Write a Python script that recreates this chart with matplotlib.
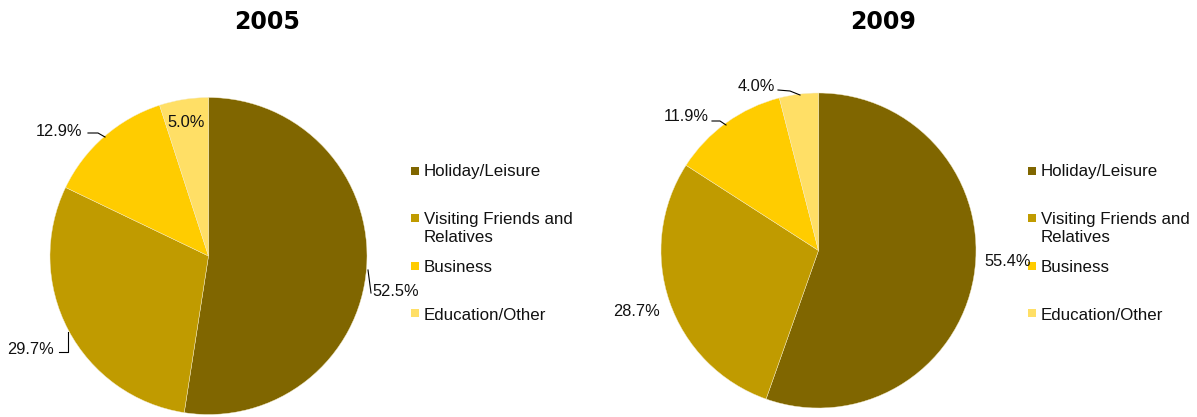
"""
Purpose of visit: share of visitors by trip purpose, 2005 vs 2009.
"""

import matplotlib
matplotlib.use("Agg")
import matplotlib.pyplot as plt
from matplotlib.patches import Rectangle

categories = ["Holiday/Leisure", "Visiting Friends and\nRelatives", "Business", "Education/Other"]
years = ["2005", "2009"]
share_2005 = [52.5, 29.7, 12.9, 5.0]
share_2009 = [55.4, 28.7, 11.9, 4.0]

colors = ["#806600", "#C09B00", "#FFCC00", "#FFDF66"]

W, H = 1197, 417
plt.rcParams["font.family"] = ["Liberation Sans", "DejaVu Sans"]

fig = plt.figure(figsize=(W / 100, H / 100), dpi=100)


def pie_axes(cx, cy, r):
    # axes box in pixel terms (y measured from top), converted to figure fractions
    return fig.add_axes([(cx - r) / W, (H - cy - r) / H, 2 * r / W, 2 * r / H])


# pie centres / radii in pixels
pies = [
    (share_2005, (208.5, 256.0, 158.5)),
    (share_2009, (818.5, 250.5, 157.5)),
]

for values, (cx, cy, r) in pies:
    ax = pie_axes(cx, cy, r)
    ax.pie(values, colors=colors, startangle=90, counterclock=False,
           radius=1.0, wedgeprops=dict(linewidth=0.3, edgecolor="#F4EBC8"))
    ax.set_xlim(-1, 1)
    ax.set_ylim(-1, 1)
    ax.set_axis_off()

# overlay in pixel coordinates for titles, labels, legends
ov = fig.add_axes([0, 0, 1, 1], zorder=5)
ov.set_xlim(0, W)
ov.set_ylim(H, 0)
ov.set_axis_off()
ov.patch.set_alpha(0)

title_x = [267, 883]
for yr, tx in zip(years, title_x):
    ov.text(tx, 22, yr, ha="center", va="center", fontsize=17, fontweight="bold",
            family="DejaVu Sans")

lbl_size = 11.8

# percentage labels: (x, y) of text centre
pos_2005 = [(396, 291), (31, 349), (59, 131), (186.5, 122)]
pos_2009 = [(1008, 262), (636, 311), (686, 116), (756, 86)]
for values, positions in [(share_2005, pos_2005), (share_2009, pos_2009)]:
    for v, (x, y) in zip(values, positions):
        ov.text(x, y, f"{v:.1f}%", ha="center", va="center", fontsize=lbl_size,
                color="#111111")

# leader lines
leaders = [
    [(368, 270), (371, 293)],
    [(68, 332), (68, 352), (59, 352)],
    [(88, 133), (98, 133), (105, 137)],
    [(712, 121), (720, 121), (726, 125)],
    [(778, 90), (790, 91), (800, 95)],
]
for pts in leaders:
    xs, ys = zip(*pts)
    ov.plot(xs, ys, color="black", linewidth=0.8)

# legends
legend_x = [411, 1028]
marker_y = [171, 218, 266, 313]
text_y = [171, 228.5, 267, 315]
for lx in legend_x:
    for cat, col, my, ty in zip(categories, colors, marker_y, text_y):
        ov.add_patch(Rectangle((lx, my - 4), 8, 8, facecolor=col, edgecolor="none"))
        ov.text(lx + 13, ty, cat, ha="left", va="center", fontsize=12.2,
                linespacing=1.3, color="#111111")

fig.savefig("out.png", dpi=100)
